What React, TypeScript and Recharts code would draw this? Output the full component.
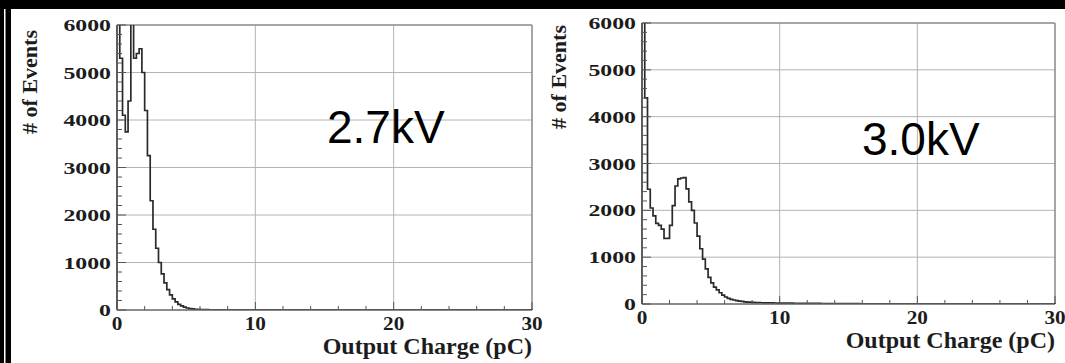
import { LineChart, Line, XAxis, YAxis, CartesianGrid, ReferenceLine } from "recharts";

// Histogram binning (pC). Counts are read bin by bin from the scanned plots.
const BIN_WIDTH = 0.2;
const X_MAX = 30;
const Y_MAX = 6000;

const X_TICKS = [0, 2, 4, 6, 8, 10, 12, 14, 16, 18, 20, 22, 24, 26, 28, 30];
const Y_TICKS = [
  0, 200, 400, 600, 800, 1000, 1200, 1400, 1600, 1800, 2000, 2200, 2400, 2600, 2800, 3000,
  3200, 3400, 3600, 3800, 4000, 4200, 4400, 4600, 4800, 5000, 5200, 5400, 5600, 5800, 6000,
];
const Y_GRID = [1000, 2000, 3000, 4000, 5000];
const X_GRID = [10, 20];

// 2.7 kV, bins from 0.0 pC
const COUNTS_27KV = [
  6800, 5300, 4100, 3750, 4400, 6600, 5300, 5400, 5500, 5000,
  4200, 3250, 2300, 1700, 1300, 1000, 760, 570, 430, 320,
  235, 170, 120, 85, 60, 42, 30, 22, 16, 12,
  9, 7, 6, 5, 4, 3, 3, 2, 2, 2,
];

// 3.0 kV, bins from 0.0 pC
const COUNTS_30KV = [
  7500, 4400, 2450, 2050, 1880, 1720, 1680, 1600, 1400, 1400,
  1680, 2100, 2520, 2670, 2690, 2700, 2460, 2180, 2000, 1730,
  1450, 1180, 960, 750, 570, 450, 360, 300, 240, 190,
  150, 120, 100, 85, 72, 62, 54, 47, 42, 38,
  34, 31, 29, 27, 26, 24, 23, 22, 21, 20,
  20, 19, 18, 18, 17, 16, 16, 15, 15, 14,
  14, 13, 13, 12, 12, 11, 11, 10, 10, 9,
  9, 8, 8, 8, 7, 7, 6, 6, 6, 5,
];

type Pt = { q: number; n: number };

function toSteps(counts: number[]): Pt[] {
  const pts: Pt[] = [{ q: 0, n: 0 }];
  counts.forEach((c, i) => pts.push({ q: Math.round(i * BIN_WIDTH * 10) / 10, n: c }));
  pts.push({ q: X_MAX, n: 0 });
  return pts;
}

const SERIF = "'Liberation Serif', 'Times New Roman', serif";
const INK = "#1c1c1c";

function YTick({ x, y, payload }: any) {
  const v = payload.value;
  const major = v % 1000 === 0;
  return (
    <g>
      <line x1={x} y1={y} x2={x + (major ? 9 : 5)} y2={y} stroke="#555" strokeWidth={1} />
      {major && (
        <text
          transform={`translate(${x - 6},${y + 6}) scale(1.4,1)`}
          textAnchor="end"
          fontFamily={SERIF}
          fontWeight="bold"
          fontSize={17}
          fill={INK}
        >
          {v}
        </text>
      )}
    </g>
  );
}

function XTick({ x, y, payload }: any) {
  const v = payload.value;
  const major = v % 10 === 0;
  return (
    <g>
      <line x1={x} y1={y} x2={x} y2={y - (major ? 8 : 4)} stroke="#555" strokeWidth={1} />
      {major && (
        <text
          transform={`translate(${x},${y + 20}) scale(1.18,1)`}
          textAnchor="middle"
          fontFamily={SERIF}
          fontWeight="bold"
          fontSize={18}
          fill={INK}
        >
          {v}
        </text>
      )}
    </g>
  );
}

function Histogram({
  counts,
  width,
  yAxisWidth,
  top,
  xAxisHeight,
  right,
  yTitleX,
  yTitleY,
}: {
  counts: number[];
  width: number;
  yAxisWidth: number;
  top: number;
  xAxisHeight: number;
  right: number;
  yTitleX: number;
  yTitleY: number;
}) {
  const data = toSteps(counts);
  return (
    <LineChart width={width} height={363} data={data} margin={{ top, right, bottom: 0, left: 0 }}>
      <CartesianGrid
        horizontalValues={Y_GRID}
        verticalValues={X_GRID}
        stroke="#b4b4b4"
        strokeWidth={1}
      />
      <XAxis
        type="number"
        dataKey="q"
        domain={[0, X_MAX]}
        ticks={X_TICKS}
        interval={0}
        height={xAxisHeight}
        tickSize={0}
        tickMargin={0}
        tickLine={false}
        axisLine={{ stroke: "#666", strokeWidth: 1.5 }}
        tick={<XTick />}
        label={{
          content: (p: any) => (
            <text
              x={p.viewBox.x + p.viewBox.width}
              y={p.viewBox.y + 44}
              textAnchor="end"
              fontFamily={SERIF}
              fontWeight="bold"
              fontSize={24}
              fill={INK}
            >
              Output Charge (pC)
            </text>
          ),
        }}
      />
      <YAxis
        type="number"
        domain={[0, Y_MAX]}
        allowDataOverflow
        ticks={Y_TICKS}
        interval={0}
        width={yAxisWidth}
        tickSize={0}
        tickMargin={0}
        tickLine={false}
        axisLine={{ stroke: "#666", strokeWidth: 1.5 }}
        tick={<YTick />}
        label={{
          content: () => (
            <text
              transform={`translate(${yTitleX},${yTitleY}) rotate(-90)`}
              textAnchor="middle"
              fontFamily={SERIF}
              fontWeight="bold"
              fontSize={22}
              fill={INK}
            >
              # of Events
            </text>
          ),
        }}
      />
      <ReferenceLine y={Y_MAX} stroke="#888" strokeWidth={1.5} />
      <ReferenceLine x={X_MAX} stroke="#888" strokeWidth={1.5} />
      <Line
        type="stepAfter"
        dataKey="n"
        stroke="#2a2a2a"
        strokeWidth={1.7}
        dot={false}
        isAnimationActive={false}
      />
    </LineChart>
  );
}

export default function App() {
  return (
    <div
      style={{
        position: "absolute",
        left: 0,
        top: 0,
        width: 1065,
        height: 363,
        background: "#fff",
        overflow: "hidden",
      }}
    >
      <div style={{ position: "absolute", left: 0, top: 0 }}>
        <Histogram
          counts={COUNTS_27KV}
          width={545}
          yAxisWidth={117}
          top={25}
          right={13}
          xAxisHeight={53}
          yTitleX={37}
          yTitleY={82}
        />
      </div>
      <div style={{ position: "absolute", left: 535, top: 0 }}>
        <Histogram
          counts={COUNTS_30KV}
          width={530}
          yAxisWidth={107}
          top={23}
          right={10}
          xAxisHeight={59}
          yTitleX={31}
          yTitleY={77}
        />
      </div>
      <svg
        width={1065}
        height={363}
        style={{ position: "absolute", left: 0, top: 0, pointerEvents: "none" }}
      >
        <rect x={0} y={0} width={1065} height={9} fill="#000" />
        <rect x={0} y={0} width={11} height={363} fill="#000" />
        <rect x={4} y={9} width={1.5} height={354} fill="#fff" />
        <text x={327} y={143} fontFamily="'Liberation Sans', Arial, sans-serif" fontSize={46} fill="#000">
          2.7kV
        </text>
        <text x={862} y={155} fontFamily="'Liberation Sans', Arial, sans-serif" fontSize={46} fill="#000">
          3.0kV
        </text>
      </svg>
    </div>
  );
}
